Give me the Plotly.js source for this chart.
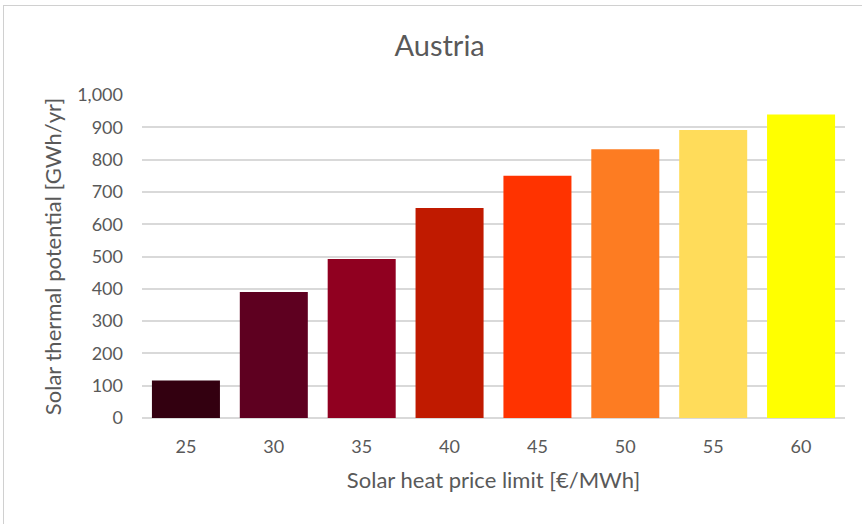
<!DOCTYPE html>
<html>
<head>
<meta charset="utf-8">
<script src="https://cdn.plot.ly/plotly-3.0.1.min.js"></script>
<style>
  html, body { margin: 0; padding: 0; background: #fff; }
  #frame { position: absolute; left: 3px; top: 5px; width: 900px; height: 560px; border: 1px solid #d0d0d0; box-sizing: border-box; }
  #chart { position: absolute; left: 0; top: 0; width: 862px; height: 524px; }
</style>
</head>
<body>
<div id="frame"></div>
<div id="chart"></div>
<script>
const categories = ["25", "30", "35", "40", "45", "50", "55", "60"];
const values = [116, 390, 492, 650, 750, 832, 892, 940];
const barColors = ["#330010", "#5e0020", "#900020", "#c01a00", "#ff3300", "#fd7c22", "#ffdc5a", "#ffff00"];
const yTickVals = [0, 100, 200, 300, 400, 500, 600, 700, 800, 900, 1000];
const yTickText = ["0", "100", "200", "300", "400", "500", "600", "700", "800", "900", "1,000"];

const fontFam = "Lato, 'Open Sans', sans-serif";
const grey = "#595959";

Plotly.newPlot("chart", [{
  type: "bar",
  x: categories,
  y: values,
  marker: { color: barColors, line: { width: 0 } },
  hoverinfo: "x+y"
}], {
  width: 862,
  height: 524,
  margin: { l: 142, r: 17, t: 95, b: 106 },
  paper_bgcolor: "rgba(0,0,0,0)",
  plot_bgcolor: "rgba(0,0,0,0)",
  bargap: 0.226,
  showlegend: false,
  title: {
    text: "Austria",
    font: { family: fontFam, size: 29, color: grey },
    x: 0.51, xref: "container", xanchor: "center",
    y: 0.912, yref: "container", yanchor: "middle"
  },
  xaxis: {
    type: "category",
    tickfont: { family: fontFam, size: 18, color: grey },
    ticks: "", showgrid: false, zeroline: false, showline: false,
    ticklabelstandoff: 16,
    title: { text: "Solar heat price limit [€/MWh]", font: { family: fontFam, size: 22, color: grey }, standoff: 16 }
  },
  yaxis: {
    range: [0, 1000],
    tickvals: yTickVals,
    ticktext: yTickText,
    tickfont: { family: fontFam, size: 18, color: grey },
    ticks: "",
    ticklabelstandoff: 18,
    showgrid: true, gridcolor: "#d9d9d9", gridwidth: 2,
    zeroline: true, zerolinecolor: "#d9d9d9", zerolinewidth: 2,
    showline: false,
    title: { text: "Solar thermal potential [GWh/yr]", font: { family: fontFam, size: 22, color: grey }, standoff: 9 }
  }
}, { displayModeBar: false, staticPlot: true });
</script>
</body>
</html>
